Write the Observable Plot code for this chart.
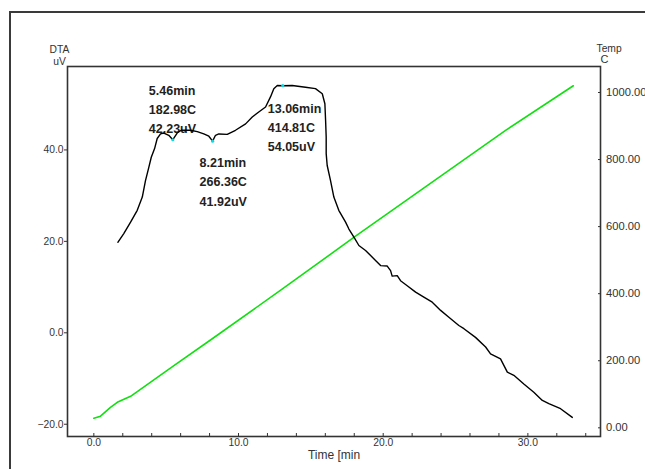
<!DOCTYPE html>
<html><head><meta charset="utf-8">
<script src="https://cdn.jsdelivr.net/npm/d3@7"></script>
<script src="https://cdn.jsdelivr.net/npm/@observablehq/plot@0.6"></script>
<style>
body{margin:0;background:#fff;}
#wrap{position:relative;width:645px;height:469px;overflow:hidden;background:#fff;}
#outer{position:absolute;left:9px;top:11px;right:-10px;bottom:-10px;border-left:2px solid #3a3a3a;border-top:2px solid #3a3a3a;pointer-events:none;}
</style></head><body>
<div id="wrap"><div id="chart"></div><div id="outer"></div></div>
<script>
// DTA curve (time in min, DTA in uV)
const dtaTime = [1.66,2.07,2.54,3.00,3.35,3.57,3.80,3.97,4.20,4.38,4.61,4.84,5.18,5.46,5.76,6.04,6.68,7.15,7.60,7.95,8.21,8.41,8.64,9.22,9.79,10.49,10.95,11.40,11.87,12.21,12.44,12.68,13.06,13.71,14.63,15.32,15.79,15.97,16.02,16.06,16.06,16.13,16.36,16.59,16.93,17.40,17.63,18.04,18.32,18.78,19.13,19.47,19.82,20.28,20.51,20.62,20.97,21.20,21.66,22.24,22.81,23.39,23.97,24.54,25.23,25.58,26.38,27.08,27.42,28.11,28.58,29.03,29.72,30.41,31.00,31.45,32.26,33.07];
const dtaValue = [19.8,21.7,24.2,26.8,29.7,33.3,36.2,38.4,40.3,42.5,43.5,43.7,43.2,42.23,43.7,44.3,44.3,44.0,43.5,43.0,41.92,43.2,43.5,43.4,44.3,45.7,47.2,48.3,49.4,51.6,53.4,54.1,54.05,54.1,53.7,53.4,52.3,50.1,46.4,42.8,39.2,36.6,33.3,29.7,26.8,24.2,22.7,20.6,19.1,18.0,16.9,15.8,14.7,14.6,13.6,12.4,12.5,11.4,10.3,8.9,7.8,6.7,4.9,3.4,1.6,0.9,-1.0,-3.1,-4.6,-5.7,-8.6,-9.3,-11.2,-13.0,-14.8,-15.5,-16.6,-18.5];
// Temperature curve (time in min, temperature in C)
const tempTime = [0,0.46,1.15,1.62,2.54,5.46,8.21,13.06,18.04,28.46,33.14];
const tempValue = [28.6,34.6,61,76,94,182.98,266.36,414.81,570,887,1020];
// Marked points
const peakTime = [5.46, 8.21, 13.06];
const peakTemp = [182.98, 266.36, 414.81];
const peakDTA = [42.23, 41.92, 54.05];
// Ticks
const xTicks = [0, 10, 20, 30];
const xMinorTicks = [0,2,4,6,8,10,12,14,16,18,20,22,24,26,28,30,32,34];
const dtaTicks = [-20, 0, 20, 40];
const tempTicks = [0, 200, 400, 600, 800, 1000];
// Domains
const xDomain = [-1.82, 35.02];
const dtaDomain = [-22.68, 58.25];
const tempDomain = [-25.9, 1077.5];

const tempToDTA = d3.scaleLinear().domain(tempDomain).range(dtaDomain);
const dta = dtaTime.map((t, i) => ({t, v: dtaValue[i]}));
const temp = tempTime.map((t, i) => ({t, v: tempToDTA(tempValue[i])}));
const peaks = peakTime.map((t, i) => ({
  t, v: peakDTA[i],
  label: `${t.toFixed(2)}min\n${peakTemp[i].toFixed(2)}C\n${peakDTA[i].toFixed(2)}uV`
}));
const annOffsets = [[-24, -32], [-13, 39], [-15, 40]];

const annText = peaks.map((p, i) => Plot.text([p], {
  x: "t", y: "v", text: "label", dx: annOffsets[i][0], dy: annOffsets[i][1],
  textAnchor: "start", lineAnchor: "middle", lineHeight: 1.54,
  fontSize: 12.5, fontWeight: "bold", fill: "#222"
}));

const chart = Plot.plot({
  width: 645, height: 469,
  marginLeft: 67, marginRight: 45, marginTop: 66, marginBottom: 33,
  style: {fontFamily: "'Liberation Sans', Arial, sans-serif", fontSize: "10.3px", color: "#333", background: "transparent"},
  x: {domain: xDomain, axis: null},
  y: {domain: dtaDomain, axis: null},
  marks: [
    Plot.frame({stroke: "#333", strokeWidth: 1.6}),
    Plot.axisY({anchor: "left", ticks: dtaTicks, tickFormat: d3.format(".1f"), tickSize: 3, tickPadding: 1, label: null}),
    Plot.axisY({anchor: "right", ticks: tempTicks.map(tempToDTA), tickSize: -3, tickFormat: () => "", label: null}),
    Plot.axisY({anchor: "right", ticks: tempTicks.map(tempToDTA), tickSize: 0, tickPadding: 5.5, fontSize: 11.2,
      tickFormat: d => d3.format(".2f")(Math.round(tempToDTA.invert(d))), label: null}),
    Plot.axisX({anchor: "bottom", ticks: xMinorTicks, tickSize: -3, tickFormat: () => "", label: null}),
    Plot.axisX({anchor: "bottom", ticks: xTicks, tickSize: 0, tickPadding: 2, tickFormat: d3.format(".1f"), label: null}),
    Plot.text(["DTA\nuV"], {frameAnchor: "top-left", dx: -8, dy: -11, textAnchor: "middle", lineAnchor: "middle", lineHeight: 1.1, fill: "#333"}),
    Plot.text(["Temp"], {frameAnchor: "top-right", dx: -4, dy: -18, textAnchor: "start", lineAnchor: "middle", fill: "#333"}),
    Plot.text(["C"], {frameAnchor: "top-right", dx: 0, dy: -7, textAnchor: "start", lineAnchor: "middle", fill: "#333", fontSize: 11}),
    Plot.text(["Time [min"], {frameAnchor: "bottom", dy: 19, textAnchor: "middle", lineAnchor: "middle", fontSize: 12, fill: "#333"}),
    ...annText,
    Plot.line(temp, {x: "t", y: "v", stroke: "#10e010", strokeWidth: 1.6}),
    Plot.line(dta, {x: "t", y: "v", stroke: "#000", strokeWidth: 1.4}),
    Plot.dot(peaks, {x: "t", y: "v", r: 1.6, fill: "#10d8e0", stroke: null})
  ]
});
document.getElementById("chart").append(chart);
</script>
</body></html>
